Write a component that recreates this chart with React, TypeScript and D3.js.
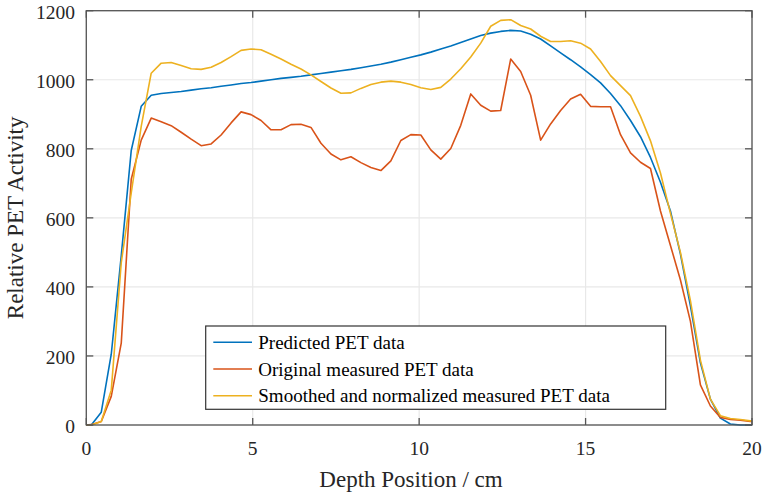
import React from "react";
import * as d3 from "d3";

const depth = [0, 0.15, 0.45, 0.75, 1.05, 1.35, 1.65, 1.95, 2.25, 2.55, 2.85, 3.15, 3.45, 3.75, 4.05, 4.35, 4.65, 4.95, 5.25, 5.55, 5.85, 6.15, 6.45, 6.75, 7.05, 7.35, 7.65, 7.95, 8.25, 8.55, 8.85, 9.15, 9.45, 9.75, 10.05, 10.35, 10.65, 10.95, 11.25, 11.55, 11.85, 12.15, 12.45, 12.75, 13.05, 13.35, 13.65, 13.95, 14.25, 14.55, 14.85, 15.15, 15.45, 15.75, 16.05, 16.35, 16.65, 16.95, 17.25, 17.55, 17.85, 18.15, 18.45, 18.75, 19.05, 19.35, 19.65, 19.95, 20];

const predicted = [0, 0, 37, 205, 490, 795, 923, 955, 960, 963, 966, 970, 974, 977, 981, 985, 989, 992, 996, 1000, 1004, 1007, 1010, 1014, 1018, 1022, 1026, 1030, 1035, 1040, 1045, 1051, 1058, 1065, 1072, 1080, 1089, 1098, 1108, 1118, 1128, 1135, 1140, 1143, 1141, 1132, 1118, 1098, 1078, 1058, 1037, 1015, 991, 960, 925, 882, 835, 775, 703, 620, 495, 345, 180, 75, 20, 3, 0, 0, 0];

const original = [0, 1, 10, 83, 237, 712, 825, 889, 878, 867, 848, 828, 809, 814, 840, 875, 907, 899, 882, 855, 855, 870, 871, 862, 816, 785, 768, 777, 760, 746, 737, 765, 824, 841, 840, 797, 770, 801, 868, 959, 926, 909, 911, 1060, 1024, 955, 825, 872, 911, 944, 958, 923, 922, 922, 841, 788, 761, 743, 620, 520, 420, 300, 116, 55, 22, 16, 14, 10, 10];

const smoothed = [0, 0, 10, 101, 470, 672, 865, 1019, 1048, 1050, 1041, 1032, 1030, 1036, 1050, 1067, 1085, 1089, 1087, 1074, 1060, 1045, 1031, 1014, 995, 976, 961, 962, 975, 986, 993, 996, 993, 986, 977, 972, 978, 1002, 1032, 1066, 1106, 1155, 1172, 1174, 1157, 1147, 1126, 1111, 1111, 1113, 1106, 1089, 1053, 1012, 983, 954, 894, 823, 730, 613, 500, 360, 188, 75, 27, 19, 16, 12, 12];

const xTicks = [0, 5, 10, 15, 20];
const yTicks = [0, 200, 400, 600, 800, 1000, 1200];

const seriesNames = [
  "Predicted PET data",
  "Original measured PET data",
  "Smoothed and normalized measured PET data",
];
const seriesColors = ["#0072BD", "#D95319", "#EDB120"];
const seriesValues = [predicted, original, smoothed];

const xLabel = "Depth Position / cm";
const yLabel = "Relative PET Activity";

export default function App() {
  const W = 765;
  const H = 497;
  const left = 86.3;
  const right = 752;
  const top = 10.7;
  const bottom = 425;
  const x = d3.scaleLinear().domain([0, 20]).range([left, right]);
  const y = d3.scaleLinear().domain([0, 1200]).range([bottom, top]);
  const line = d3
    .line<number>()
    .x((_, i) => x(depth[i]))
    .y((d) => y(d));

  const font = "'Liberation Serif', 'Times New Roman', serif";
  const axisColor = "#555555";
  const gridColor = "#e8e8e8";
  const tickLen = 7;

  const legend = { x0: 205.7, y0: 326, x1: 665.7, y1: 409.3 };
  const rowY = [342.3, 369, 395.7];

  return (
    <svg
      width={W}
      height={H}
      viewBox={`0 0 ${W} ${H}`}
      style={{ position: "absolute", left: 0, top: 0, background: "#fff" }}
      fontFamily={font}
    >
      <rect x={0} y={0} width={W} height={H} fill="#fff" />
      {/* grid */}
      {xTicks.map((t) => (
        <line key={"gx" + t} x1={x(t)} x2={x(t)} y1={top} y2={bottom} stroke={gridColor} strokeWidth={1.2} />
      ))}
      {yTicks.map((t) => (
        <line key={"gy" + t} x1={left} x2={right} y1={y(t)} y2={y(t)} stroke={gridColor} strokeWidth={1.2} />
      ))}
      {/* series */}
      {seriesValues.map((vals, i) => (
        <path
          key={"s" + i}
          d={line(vals) || ""}
          fill="none"
          stroke={seriesColors[i]}
          strokeWidth={1.6}
          strokeLinejoin="round"
        />
      ))}
      {/* frame */}
      <rect x={left} y={top} width={right - left} height={bottom - top} fill="none" stroke={axisColor} strokeWidth={1.3} />
      {xTicks.map((t) => (
        <g key={"tx" + t}>
          <line x1={x(t)} x2={x(t)} y1={bottom} y2={bottom - tickLen} stroke={axisColor} strokeWidth={1.3} />
          <line x1={x(t)} x2={x(t)} y1={top} y2={top + tickLen} stroke={axisColor} strokeWidth={1.3} />
          <text x={x(t)} y={455} textAnchor="middle" fontSize={19.5} fill="#262626">
            {t}
          </text>
        </g>
      ))}
      {yTicks.map((t) => (
        <g key={"ty" + t}>
          <line x1={left} x2={left + tickLen} y1={y(t)} y2={y(t)} stroke={axisColor} strokeWidth={1.3} />
          <line x1={right} x2={right - tickLen} y1={y(t)} y2={y(t)} stroke={axisColor} strokeWidth={1.3} />
          <text x={75} y={y(t) + 8.3} textAnchor="end" fontSize={19.5} fill="#262626">
            {t}
          </text>
        </g>
      ))}
      {/* axis labels */}
      <text x={411} y={487.3} textAnchor="middle" fontSize={23} fill="#262626">
        {xLabel}
      </text>
      <text
        transform={`translate(22.7, ${(top + bottom) / 2}) rotate(-90)`}
        textAnchor="middle"
        fontSize={23}
        fill="#262626"
      >
        {yLabel}
      </text>
      {/* legend */}
      <rect
        x={legend.x0}
        y={legend.y0}
        width={legend.x1 - legend.x0}
        height={legend.y1 - legend.y0}
        fill="#fff"
        stroke="#333"
        strokeWidth={1.2}
      />
      {seriesNames.map((name, i) => (
        <g key={"l" + i}>
          <line x1={213.3} x2={252} y1={rowY[i]} y2={rowY[i]} stroke={seriesColors[i]} strokeWidth={1.6} />
          <text x={258.3} y={rowY[i] + 6.5} fontSize={19} fill="#000">
            {name}
          </text>
        </g>
      ))}
    </svg>
  );
}
